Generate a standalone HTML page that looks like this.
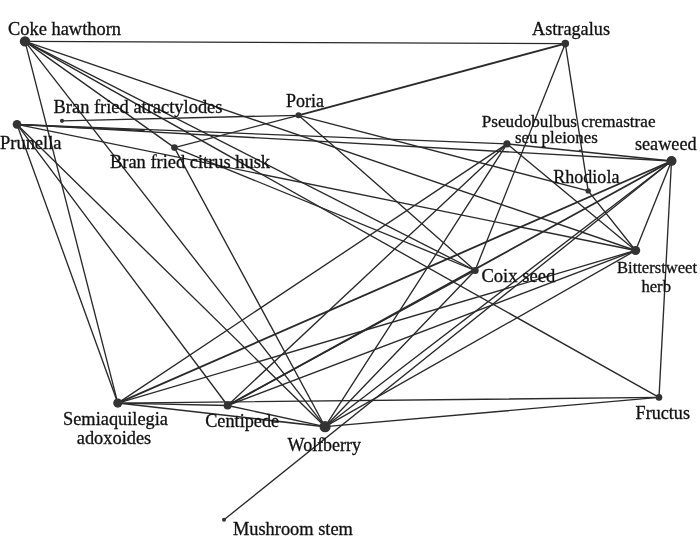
<!DOCTYPE html>
<html><head><meta charset="utf-8"><title>Herb network</title>
<style>html,body{margin:0;padding:0;background:#fff}svg{display:block}svg{will-change:transform}text{font-family:"Liberation Serif","Times New Roman",serif;font-size:18.2px;fill:#111;stroke:#111;stroke-width:0.3px}</style></head><body>
<svg width="700" height="545" viewBox="0 0 700 545">
<rect width="700" height="545" fill="#fff"/>
<g stroke="#2a2a2a" stroke-linecap="round" fill="none">
<line x1="25.0" y1="41.4" x2="565.3" y2="43.6" stroke-width="1.35"/>
<line x1="25.0" y1="41.4" x2="117.8" y2="403.1" stroke-width="1.35"/>
<line x1="25.0" y1="41.4" x2="325.1" y2="426.7" stroke-width="1.35"/>
<line x1="25.0" y1="41.4" x2="174.4" y2="147.6" stroke-width="1.35"/>
<line x1="25.0" y1="41.4" x2="635.6" y2="250.5" stroke-width="1.35"/>
<line x1="25.0" y1="41.4" x2="475.1" y2="270.5" stroke-width="1.35"/>
<line x1="25.0" y1="41.4" x2="659.0" y2="397.4" stroke-width="1.35"/>
<line x1="174.4" y1="147.6" x2="298.5" y2="115.3" stroke-width="1.35"/>
<line x1="298.5" y1="115.3" x2="565.3" y2="43.6" stroke-width="1.9"/>
<line x1="62.0" y1="120.8" x2="298.5" y2="115.3" stroke-width="1.35"/>
<line x1="174.4" y1="147.6" x2="325.1" y2="426.7" stroke-width="1.35"/>
<line x1="174.4" y1="147.6" x2="475.1" y2="270.5" stroke-width="1.35"/>
<line x1="298.5" y1="115.3" x2="475.1" y2="270.5" stroke-width="1.35"/>
<line x1="298.5" y1="115.3" x2="588.2" y2="190.9" stroke-width="1.35"/>
<line x1="17.0" y1="124.4" x2="507.0" y2="143.9" stroke-width="1.35"/>
<line x1="17.0" y1="124.4" x2="671.5" y2="161.0" stroke-width="1.35"/>
<line x1="17.0" y1="124.4" x2="635.6" y2="250.5" stroke-width="1.35"/>
<line x1="17.0" y1="124.4" x2="227.6" y2="405.5" stroke-width="1.35"/>
<line x1="17.0" y1="124.4" x2="117.8" y2="403.1" stroke-width="1.35"/>
<line x1="17.0" y1="124.4" x2="325.1" y2="426.7" stroke-width="1.35"/>
<line x1="224.0" y1="519.7" x2="671.5" y2="161.0" stroke-width="1.35"/>
<line x1="565.3" y1="43.6" x2="588.2" y2="190.9" stroke-width="1.35"/>
<line x1="565.3" y1="43.6" x2="475.1" y2="270.5" stroke-width="1.35"/>
<line x1="507.0" y1="143.9" x2="671.5" y2="161.0" stroke-width="1.35"/>
<line x1="507.0" y1="143.9" x2="635.6" y2="250.5" stroke-width="1.35"/>
<line x1="588.2" y1="190.9" x2="635.6" y2="250.5" stroke-width="1.35"/>
<line x1="671.5" y1="161.0" x2="117.8" y2="403.1" stroke-width="1.85"/>
<line x1="671.5" y1="161.0" x2="227.6" y2="405.5" stroke-width="1.85"/>
<line x1="671.5" y1="161.0" x2="325.1" y2="426.7" stroke-width="1.35"/>
<line x1="671.5" y1="161.0" x2="635.6" y2="250.5" stroke-width="1.35"/>
<line x1="671.5" y1="161.0" x2="659.0" y2="397.4" stroke-width="1.35"/>
<line x1="659.0" y1="397.4" x2="325.1" y2="426.7" stroke-width="1.35"/>
<line x1="659.0" y1="397.4" x2="117.8" y2="403.1" stroke-width="1.35"/>
<line x1="117.8" y1="403.1" x2="507.0" y2="143.9" stroke-width="1.35"/>
<line x1="117.8" y1="403.1" x2="635.6" y2="250.5" stroke-width="1.35"/>
<line x1="117.8" y1="403.1" x2="227.6" y2="405.5" stroke-width="1.35"/>
<line x1="117.8" y1="403.1" x2="325.1" y2="426.7" stroke-width="1.55"/>
<line x1="227.6" y1="405.5" x2="507.0" y2="143.9" stroke-width="1.35"/>
<line x1="227.6" y1="405.5" x2="635.6" y2="250.5" stroke-width="1.35"/>
<line x1="227.6" y1="405.5" x2="325.1" y2="426.7" stroke-width="1.35"/>
<line x1="227.6" y1="405.5" x2="475.1" y2="270.5" stroke-width="1.35"/>
<line x1="325.1" y1="426.7" x2="507.0" y2="143.9" stroke-width="1.35"/>
<line x1="325.1" y1="426.7" x2="475.1" y2="270.5" stroke-width="1.35"/>
<line x1="325.1" y1="426.7" x2="635.6" y2="250.5" stroke-width="1.35"/>
<line x1="17" y1="124.4" x2="144" y2="130.4" stroke-width="1.5"/>
</g>
<g fill="#333">
<circle cx="25.0" cy="41.4" r="5.2"/>
<circle cx="565.3" cy="43.6" r="3.8"/>
<circle cx="62.0" cy="120.8" r="2.1"/>
<circle cx="298.5" cy="115.3" r="3.0"/>
<circle cx="17.0" cy="124.4" r="4.3"/>
<circle cx="174.4" cy="147.6" r="3.3"/>
<circle cx="507.0" cy="143.9" r="3.6"/>
<circle cx="671.5" cy="161.0" r="5.0"/>
<circle cx="588.2" cy="190.9" r="2.7"/>
<circle cx="635.6" cy="250.5" r="4.6"/>
<circle cx="475.1" cy="270.5" r="3.6"/>
<circle cx="117.8" cy="403.1" r="4.6"/>
<circle cx="227.6" cy="405.5" r="4.0"/>
<circle cx="325.1" cy="426.7" r="5.6"/>
<circle cx="659.0" cy="397.4" r="3.3"/>
<circle cx="224.0" cy="519.7" r="2.0"/>
<circle cx="580.0" cy="150.7" r="1.2"/>
</g>
<g>
<text x="8" y="35" textLength="113" lengthAdjust="spacingAndGlyphs">Coke hawthorn</text>
<text x="532" y="34.7" textLength="78" lengthAdjust="spacingAndGlyphs">Astragalus</text>
<text x="53.5" y="112.5" textLength="169" lengthAdjust="spacingAndGlyphs">Bran fried atractylodes</text>
<text x="286" y="106.5" textLength="38" lengthAdjust="spacingAndGlyphs">Poria</text>
<text x="0" y="148.5" textLength="61.5" lengthAdjust="spacingAndGlyphs">Prunella</text>
<text x="110" y="167.5" textLength="160" lengthAdjust="spacingAndGlyphs">Bran fried citrus husk</text>
<text x="481.8" y="126.7" textLength="173.7" lengthAdjust="spacingAndGlyphs" style="font-size:17.1px">Pseudobulbus cremastrae</text>
<text x="514.9" y="142.6" textLength="82.9" lengthAdjust="spacingAndGlyphs" style="font-size:17.1px">seu pleiones</text>
<text x="634.9" y="150.4" textLength="61.7" lengthAdjust="spacingAndGlyphs">seaweed</text>
<text x="553.3" y="182.7" textLength="66.1" lengthAdjust="spacingAndGlyphs">Rhodiola</text>
<text x="481.4" y="282.3" textLength="73.8" lengthAdjust="spacingAndGlyphs">Coix seed</text>
<text x="617" y="272.8" textLength="80" lengthAdjust="spacingAndGlyphs" style="font-size:16.7px">Bitterstweet</text>
<text x="641.4" y="292.1" textLength="29.6" lengthAdjust="spacingAndGlyphs" style="font-size:16.7px">herb</text>
<text x="635.6" y="418.6" textLength="54.4" lengthAdjust="spacingAndGlyphs">Fructus</text>
<text x="63" y="425.2" textLength="105" lengthAdjust="spacingAndGlyphs">Semiaquilegia</text>
<text x="76.8" y="444" textLength="74.4" lengthAdjust="spacingAndGlyphs">adoxoides</text>
<text x="205.2" y="427.0" textLength="74" lengthAdjust="spacingAndGlyphs">Centipede</text>
<text x="287.6" y="450.5" textLength="73.5" lengthAdjust="spacingAndGlyphs">Wolfberry</text>
<text x="232.9" y="534.9" textLength="120" lengthAdjust="spacingAndGlyphs">Mushroom stem</text>
</g>
</svg></body></html>
